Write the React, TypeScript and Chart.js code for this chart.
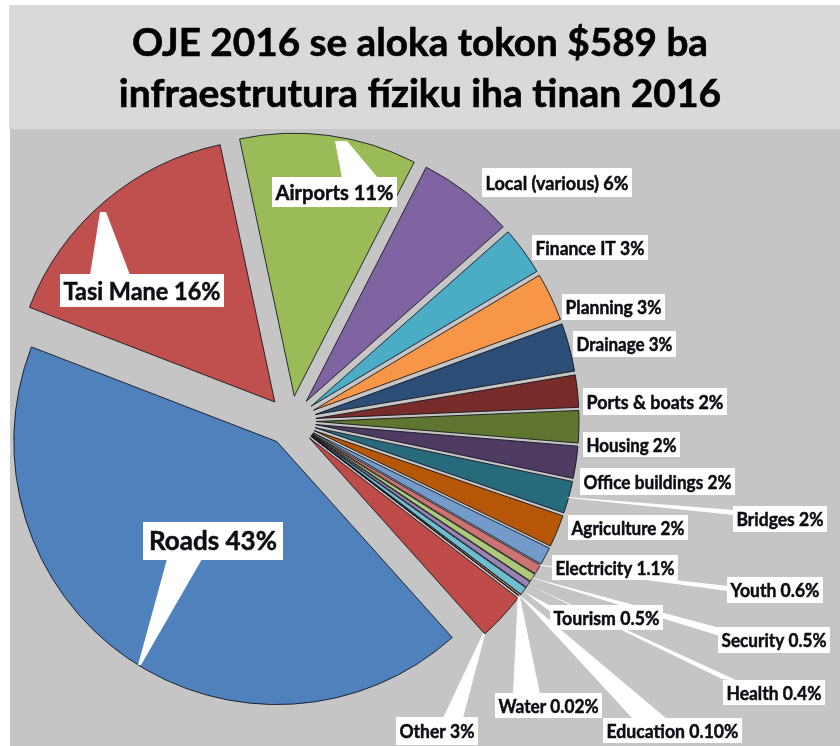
import React, { useEffect, useRef } from "react";
import { Chart, registerables } from "chart.js";

Chart.register(...registerables);

// ---------- data ----------
const titleLines = ["OJE 2016 se aloka tokon $589 ba", "infraestrutura fíziku iha tinan 2016"];

const categories = [
  "Airports", "Local (various)", "Finance IT", "Planning", "Drainage",
  "Ports & boats", "Housing", "Office buildings", "Bridges", "Agriculture",
  "Electricity", "Youth", "Security", "Health", "Tourism",
  "Education", "Water", "Other", "Roads", "Tasi Mane",
];
const shares = [11, 6, 3, 3, 3, 2, 2, 2, 2, 2, 1.1, 0.6, 0.5, 0.4, 0.5, 0.1, 0.02, 3, 43, 16];
const shareLabels = ["11%", "6%", "3%", "3%", "3%", "2%", "2%", "2%", "2%", "2%", "1.1%", "0.6%", "0.5%", "0.4%", "0.5%", "0.10%", "0.02%", "3%", "43%", "16%"];

// ---------- styles / layout ----------
const sliceColors = [
  "#9bbb59", "#8064a2", "#4bacc6", "#f79646", "#2c4d75",
  "#772c2a", "#5f7530", "#4d3b62", "#276a7c", "#b65708",
  "#729aca", "#cd7371", "#afc97a", "#9983b5", "#6fbdd1",
  "#f9ab6b", "#3a5f8c", "#bf4b48", "#4f81bd", "#c0504d",
];
const EXPLODE = 25;
const FONT = "Lato, 'Open Sans', sans-serif";

type Pt = [number, number];
type LabelLayout = {
  box: [number, number, number, number];
  fs: number;
  pointer?: Pt[];
  leader?: { anchor: "mid" | "start" | "end"; to: [Pt, Pt] };
};

const labelLayout: LabelLayout[] = [
  { box: [272, 177, 125, 30], fs: 21, pointer: [[335, 141], [347, 141], [378, 178], [342, 178]] },
  { box: [482, 168, 150, 29], fs: 19 },
  { box: [532, 235, 116, 25], fs: 19 },
  { box: [562, 294, 103, 26], fs: 19 },
  { box: [573, 331, 103, 26], fs: 19 },
  { box: [583, 388, 144, 27], fs: 19 },
  { box: [583, 432, 97, 25], fs: 19 },
  { box: [580, 468, 155, 27], fs: 19 },
  { box: [733, 506, 94, 26], fs: 19, leader: { anchor: "mid", to: [[734, 510], [734, 515]] } },
  { box: [568, 515, 120, 25], fs: 19 },
  { box: [552, 555, 126, 25], fs: 19 },
  { box: [727, 577, 96, 26], fs: 19, leader: { anchor: "start", to: [[728, 586], [728, 591]] } },
  { box: [718, 627, 112, 26], fs: 19, leader: { anchor: "mid", to: [[720, 628], [720, 636]] } },
  { box: [723, 680, 102, 25], fs: 19, leader: { anchor: "mid", to: [[722, 679], [738, 681]] } },
  { box: [550, 605, 113, 25], fs: 19, leader: { anchor: "mid", to: [[551, 606], [551, 612]] } },
  { box: [603, 718, 139, 25], fs: 19, leader: { anchor: "mid", to: [[633, 719], [667, 719]] } },
  { box: [495, 693, 107, 25], fs: 19, leader: { anchor: "mid", to: [[513, 694], [540, 694]] } },
  { box: [396, 717, 82, 28], fs: 19, leader: { anchor: "end", to: [[443, 718], [463, 718]] } },
  { box: [143, 522, 140, 38], fs: 26, pointer: [[167, 559], [202, 559], [141, 665], [138, 665]] },
  { box: [60, 274, 164, 33], fs: 25, pointer: [[100, 212], [106, 212], [130, 275], [90, 275]] },
];

const backgroundPlugin = {
  id: "pageBackground",
  beforeDraw(chart: any) {
    const ctx = chart.ctx as CanvasRenderingContext2D;
    ctx.save();
    ctx.fillStyle = "#ffffff";
    ctx.fillRect(0, 0, chart.width, chart.height);
    ctx.fillStyle = "#d9d9d9";
    ctx.fillRect(9, 5, chart.width - 9, 124);
    ctx.fillStyle = "#c5c5c5";
    ctx.fillRect(10, 129, chart.width - 10, chart.height - 129);
    // title
    ctx.fillStyle = "#000000";
    ctx.strokeStyle = "#000000";
    ctx.lineWidth = 0.6;
    ctx.textAlign = "center";
    ctx.textBaseline = "alphabetic";
    ctx.font = `bold 39px ${FONT}`;
    ctx.fillText(titleLines[0], 420, 56, 576);
    ctx.strokeText(titleLines[0], 420, 56, 576);
    ctx.fillText(titleLines[1], 420, 107, 606);
    ctx.strokeText(titleLines[1], 420, 107, 606);
    ctx.restore();
  },
};

const explodePlugin = {
  id: "explodeSlices",
  afterDatasetsUpdate(chart: any) {
    const meta = chart.getDatasetMeta(0);
    const cx = (chart.chartArea.left + chart.chartArea.right) / 2;
    const cy = (chart.chartArea.top + chart.chartArea.bottom) / 2;
    meta.data.forEach((arc: any) => {
      const mid = (arc.startAngle + arc.endAngle) / 2;
      arc.x = cx + Math.cos(mid) * EXPLODE;
      arc.y = cy + Math.sin(mid) * EXPLODE;
    });
  },
};

const labelPlugin = {
  id: "sliceLabels",
  afterDatasetsDraw(chart: any) {
    const ctx = chart.ctx as CanvasRenderingContext2D;
    const meta = chart.getDatasetMeta(0);
    ctx.save();
    // leaders and pointers
    ctx.fillStyle = "#ffffff";
    labelLayout.forEach((lay, i) => {
      if (lay.pointer) {
        ctx.beginPath();
        lay.pointer.forEach((p, k) => (k === 0 ? ctx.moveTo(p[0], p[1]) : ctx.lineTo(p[0], p[1])));
        ctx.closePath();
        ctx.fill();
      }
      if (lay.leader) {
        const arc = meta.data[i];
        const ang = lay.leader.anchor === "start" ? arc.startAngle : lay.leader.anchor === "end" ? arc.endAngle : (arc.startAngle + arc.endAngle) / 2;
        const r = arc.outerRadius - 1;
        const sx = arc.x + Math.cos(ang) * r;
        const sy = arc.y + Math.sin(ang) * r;
        const [a, b] = lay.leader.to;
        ctx.beginPath();
        ctx.moveTo(sx - 1, sy);
        ctx.lineTo(a[0], a[1]);
        ctx.lineTo(b[0], b[1]);
        ctx.lineTo(sx + 1, sy + 1);
        ctx.closePath();
        ctx.fill();
      }
    });
    // boxes and text
    labelLayout.forEach((lay, i) => {
      const [x, y, w, h] = lay.box;
      ctx.fillStyle = "#ffffff";
      ctx.fillRect(x, y, w, h);
      ctx.fillStyle = "#0d0d14";
      ctx.strokeStyle = "#0d0d14";
      ctx.lineWidth = 0.5;
      ctx.font = `bold ${lay.fs}px ${FONT}`;
      ctx.textAlign = "center";
      ctx.textBaseline = "middle";
      const txt = `${categories[i]} ${shareLabels[i]}`;
      ctx.fillText(txt, x + w / 2, y + h / 2 + 1, w - 7);
      ctx.strokeText(txt, x + w / 2, y + h / 2 + 1, w - 7);
    });
    ctx.restore();
  },
};

export default function App() {
  const canvasRef = useRef<HTMLCanvasElement | null>(null);

  useEffect(() => {
    const canvas = canvasRef.current;
    if (!canvas) return;
    const chart = new Chart(canvas, {
      type: "pie",
      data: {
        labels: categories,
        datasets: [
          {
            data: shares,
            backgroundColor: sliceColors,
            borderColor: "rgba(15,15,25,0.85)",
            borderWidth: 1,
          },
        ],
      },
      options: {
        responsive: false,
        animation: false,
        events: [],
        rotation: -12,
        radius: 263,
        layout: { padding: { left: 0, right: 258, top: 96, bottom: 0 } },
        plugins: {
          legend: { display: false },
          tooltip: { enabled: false },
          title: { display: false },
        },
      } as any,
      plugins: [backgroundPlugin, explodePlugin, labelPlugin],
    });
    return () => chart.destroy();
  }, []);

  return (
    <div style={{ position: "absolute", left: 0, top: 0, width: 840, height: 746 }}>
      <canvas ref={canvasRef} width={840} height={746} style={{ display: "block", width: 840, height: 746 }} />
    </div>
  );
}
